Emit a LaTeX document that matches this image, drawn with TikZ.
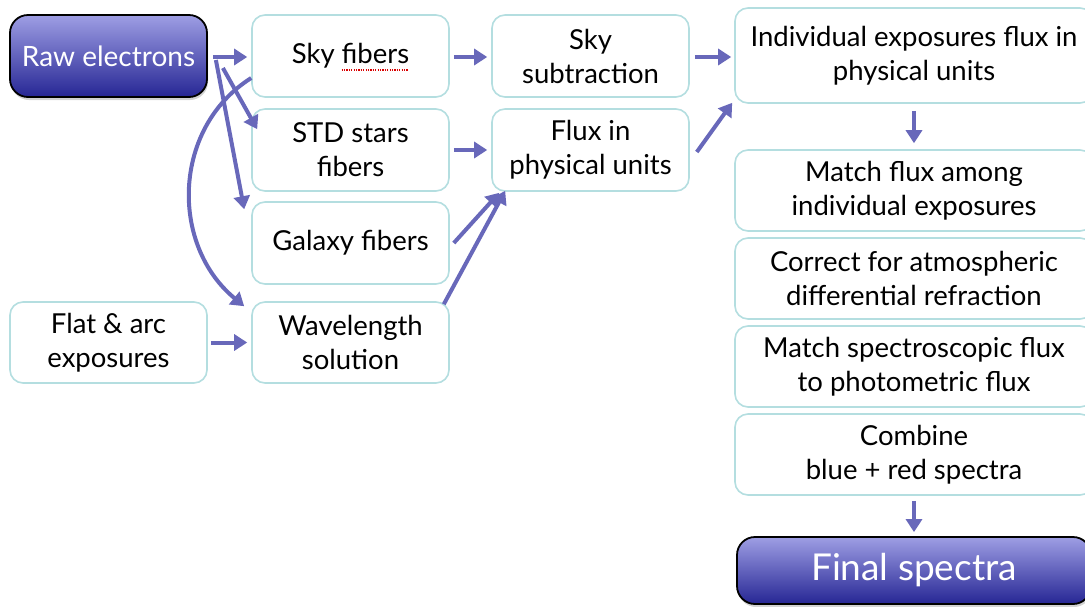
\documentclass[tikz,border=0pt]{standalone}
\usepackage{fontspec}
\setmainfont{Lato}
\usetikzlibrary{arrows.meta,calc,shadows}
\definecolor{boxline}{RGB}{180,222,224}
\definecolor{arrowc}{RGB}{104,104,186}
\definecolor{topc}{RGB}{158,158,228}
\definecolor{botc}{RGB}{38,38,148}
\tikzset{
  box/.style={draw=boxline, line width=1.6pt, rounded corners=13pt, fill=white,
    minimum width=197pt, minimum height=82pt, align=center, inner sep=1pt,
    font=\fontsize{27.5}{34}\selectfont},
  widebox/.style={box, minimum width=358pt},
  darkbox/.style={draw=black, line width=1.8pt, rounded corners=18pt,
    top color=topc, bottom color=botc, text=white, align=center,
    drop shadow={shadow xshift=1pt, shadow yshift=-3pt, opacity=0.35}},
  arr/.style={draw=arrowc, line width=4pt, -{Triangle[width=16pt,length=13pt]}},
}
\begin{document}
\begin{tikzpicture}[x=1pt,y=-1pt]
\useasboundingbox (0,0) rectangle (1085,606);
\clip (0,0) rectangle (1085,606);
\node[darkbox, minimum width=197pt, minimum height=82pt, font=\fontsize{28}{34}\selectfont] (raw) at (108.5,56) {Raw electrons};
\node[box] (sky) at (350.5,56) {Sky fibers};
\node[box] (std) at (350.5,150) {STD stars\\fibers};
\node[box] (gal) at (350.5,243) {Galaxy fibers};
\node[box, minimum height=81pt] (wav) at (350.5,342.5) {Wavelength\\solution};
\node[box, minimum height=81pt] (flat) at (108.5,342.5) {Flat \& arc\\exposures};
\node[box] (sub) at (590.5,56) {Sky\\subtraction};
\node[box] (flux) at (590.5,150) {Flux in\\physical units};
\node[widebox, minimum height=95pt] (ind) at (914,55.5) {Individual exposures flux in\\physical units};
\node[widebox, minimum height=81pt] (match) at (914,190.5) {Match flux among\\individual exposures};
\node[widebox, minimum height=81pt] (corr) at (914,278.5) {Correct for atmospheric\\differential refraction};
\node[widebox, minimum height=81pt] (spec) at (914,366.5) {Match spectroscopic flux\\to photometric flux};
\node[widebox, minimum height=81pt] (comb) at (914,454.5) {Combine\\blue + red spectra};
\node[darkbox, minimum width=354pt, minimum height=67pt, font=\fontsize{37}{42}\selectfont] (final) at (914,570.5) {Final spectra};
% spell-check underline
\draw[red!85!black, line width=1.2pt, dash pattern=on 1.2pt off 1.2pt] ($(sky.center)+(-9,14)$) -- ($(sky.center)+(58,14)$);
% connectors
\draw[arr] ($(raw.east)+(5,1)$) -- ($(sky.west)+(-4,1)$);
\draw[arr] ($(raw.east)+(15,12)$) -- ($(std.north west)+(6,21)$);
\draw[arr] ($(raw.east)+(8,4)$) -- ($(gal.north west)+(-7,8)$);
\draw[arr] ($(sky.west)+(0,22)$) .. controls (172,128) and (170,245) .. ($(wav.north west)+(-7,5)$);
\draw[arr] ($(flat.east)+(3,0)$) -- ($(wav.west)+(-4,0)$);
\draw[arr] ($(sky.east)+(4,1)$) -- ($(sub.west)+(-4,1)$);
\draw[arr] ($(std.east)+(4,0)$) -- ($(flux.west)+(-4,0)$);
\draw[arr] ($(gal.east)+(4,0)$) -- ($(flux.south west)+(8,1)$);
\draw[arr] ($(wav.north east)+(-6,3)$) -- ($(flux.south west)+(14,-1)$);
\draw[arr] ($(sub.east)+(5,1)$) -- ($(ind.west)+(-3,1.5)$);
\draw[arr] ($(flux.east)+(7,2)$) -- ($(ind.south west)+(-2,-1)$);
\draw[arr] ($(ind.south)+(0,7)$) -- ($(match.north)+(0,-6)$);
\draw[arr] ($(comb.south)+(0,5)$) -- ($(final.north)+(0,-4)$);
\end{tikzpicture}
\end{document}
